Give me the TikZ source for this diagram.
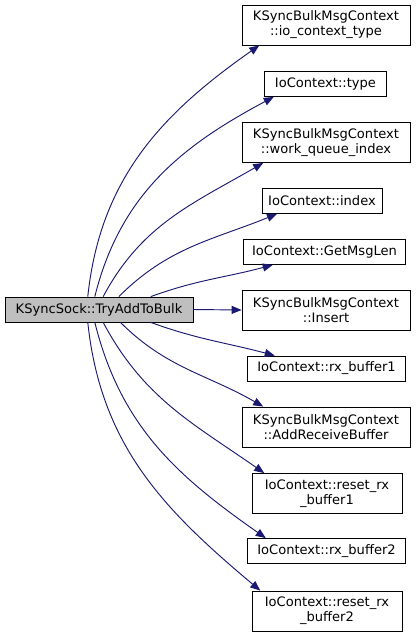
\documentclass[tikz,border=0pt]{standalone}
\usepackage{fontspec}
\setmainfont{DejaVu Sans}
\usetikzlibrary{arrows.meta}
\definecolor{EdgeBlue}{HTML}{191970}
\definecolor{RootGrey}{HTML}{BFBFBF}

\begin{document}
\begin{tikzpicture}[x=0.75pt,y=-0.75pt,>={Triangle[length=7.5pt,width=6pt]},every node/.style={font=\fontsize{9.8}{11.2}\selectfont,align=center,draw=black,line width=0.6pt,inner sep=0pt},fn/.style={fill=white},call/.style={->,EdgeBlue,line width=0.7pt}]
\useasboundingbox(0,0)rectangle(416,636);
\node[fill=RootGrey,minimum width=141pt,minimum height=18.75pt](root)at(99,309.5){KSyncSock::TryAddToBulk};
\foreach \n/\x/\y/\w/\h/\t in {a/326/25/126/30/{KSyncBulkMsgContext\\::io\_context\_type},b/325.5/84/92/18.75/{IoContext::type},c/326/142.5/126/30/{KSyncBulkMsgContext\\::work\_queue\_index},d/322/201/90/18.75/{IoContext::index},e/324.5/252/122/18.75/{IoContext::GetMsgLen},f/326/310/126/30/{KSyncBulkMsgContext\\::Insert},g/326.5/368.5/119/18.75/{IoContext::rx\_buffer1},h/326/427/126/30/{KSyncBulkMsgContext\\::AddReceiveBuffer},i/327/493.5/112.5/30/{IoContext::reset\_rx\\\_buffer1},j/326.5/551/119/18.75/{IoContext::rx\_buffer2},k/327/611/112.5/30/{IoContext::reset\_rx\\\_buffer2}}{\node[fn,minimum width=\w pt,minimum height=\h pt](\n)at(\x,\y){\t};}
% calls leave the root box and curve into each callee
\foreach \n/\s/\o/\e/\i in {a/131/84/197/215,b/108/76/194/208,c/72/62/198/210,d/33/45/196/202,e/14/20/194/195,g/-14/-20/166/165,h/-31/-45/162/150,i/-72/-62/162/145,j/-108/-76/168/145,k/-131/-84/163/140}{\draw[call](root.\s)to[out=\o,in=\i](\n.\e);}
\draw[call](root.east)--(f.west);
\end{tikzpicture}
\end{document}
